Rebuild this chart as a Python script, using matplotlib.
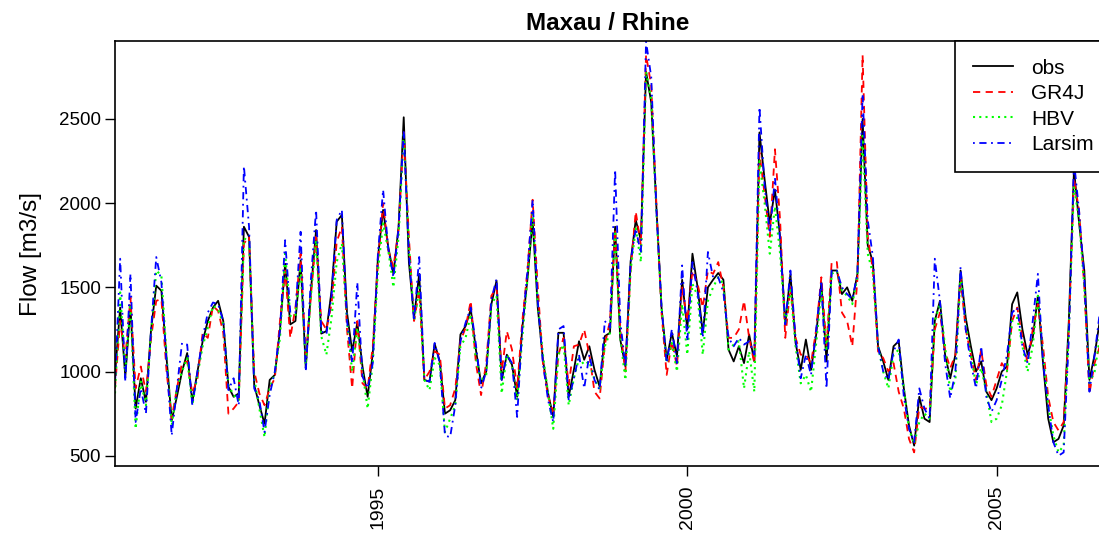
import numpy as np
import matplotlib
matplotlib.use("Agg")
import matplotlib.pyplot as plt

# monthly mean flow at Maxau, Oct 1990 - Sep 2006
start_year = 1990.75

obs = [980, 1380, 970, 1390, 780, 960, 820, 1250, 1510, 1480, 1080, 710,
       850, 1000, 1110, 820, 1000, 1180, 1300, 1380, 1420, 1300, 910, 850,
       870, 1860, 1800, 920, 800, 690, 950, 980, 1250, 1640, 1280, 1300,
       1660, 1020, 1480, 1840, 1225, 1240, 1480, 1890, 1930, 1350, 1120, 1290,
       1030, 850, 1110, 1680, 1960, 1740, 1580, 1860, 2510, 1650, 1320, 1580,
       950, 940, 1165, 1060, 750, 770, 830, 1220, 1270, 1370, 1130, 930,
       1000, 1400, 1540, 950, 1100, 1040, 850, 1260, 1550, 1900, 1380, 1070,
       870, 730, 1230, 1230, 850, 1010, 1180, 1070, 1150, 1010, 910, 1210,
       1230, 1860, 1190, 1030, 1650, 1900, 1780, 2780, 2600, 1980, 1380, 1070,
       1230, 1090, 1545, 1250, 1700, 1500, 1230, 1500, 1545, 1585, 1545, 1130,
       1060, 1150, 1050, 1220, 1060, 2420, 2140, 1880, 2080, 1800, 1280, 1580,
       1170, 1010, 1190, 1010, 1220, 1530, 1060, 1600, 1600, 1460, 1500, 1420,
       1580, 2500, 1750, 1650, 1150, 1060, 950, 1150, 1180, 900, 680, 560,
       850, 720, 700, 1300, 1420, 1100, 960, 1100, 1600, 1320, 1150, 1000,
       1060, 880, 830, 900, 1000, 1030, 1400, 1470, 1250, 1100, 1200, 1450,
       1050, 720, 580, 600, 680, 1300, 2200, 1880, 1600, 950, 1100, 1300]

gr4j = [900, 1300, 1080, 1440, 900, 1030, 880, 1200, 1420, 1430, 1000, 720,
        900, 1050, 1060, 870, 960, 1230, 1200, 1390, 1360, 1230, 750, 780,
        820, 1760, 1800, 1000, 870, 800, 900, 960, 1300, 1600, 1200, 1380,
        1700, 1080, 1450, 1800, 1300, 1250, 1400, 1770, 1860, 1250, 900, 1300,
        930, 900, 1150, 1650, 2000, 1720, 1620, 1840, 2420, 1800, 1300, 1480,
        950, 1000, 1120, 1100, 780, 800, 900, 1180, 1260, 1420, 1050, 860,
        1050, 1450, 1500, 1000, 1240, 1130, 900, 1300, 1600, 2020, 1500, 1050,
        850, 760, 1100, 1200, 920, 1150, 1160, 1250, 1100, 880, 840, 1160,
        1300, 1840, 1250, 1000, 1600, 1950, 1750, 2880, 2700, 2000, 1350, 980,
        1180, 1030, 1500, 1300, 1600, 1520, 1380, 1600, 1580, 1650, 1500, 1200,
        1200, 1250, 1420, 1200, 1050, 2300, 2050, 1800, 2320, 1900, 1200, 1500,
        1200, 1100, 1100, 1050, 1250, 1560, 1150, 1650, 1650, 1350, 1300, 1150,
        1550, 2880, 1800, 1600, 1120, 1080, 1000, 1050, 880, 780, 600, 520,
        790, 780, 780, 1250, 1350, 1120, 1020, 1100, 1550, 1250, 1100, 950,
        1130, 920, 850, 950, 1050, 1000, 1300, 1380, 1200, 1050, 1250, 1400,
        1150, 850, 700, 650, 700, 1250, 2150, 1950, 1500, 870, 1050, 1150]

hbv = [870, 1470, 1000, 1400, 660, 940, 800, 1230, 1600, 1570, 1100, 680,
       900, 1000, 1080, 800, 980, 1150, 1260, 1390, 1370, 1280, 920, 860,
       830, 1790, 1780, 960, 780, 610, 900, 990, 1200, 1700, 1330, 1330,
       1620, 1040, 1450, 1780, 1210, 1100, 1320, 1650, 1760, 1300, 1000, 1260,
       1000, 780, 1050, 1600, 1880, 1720, 1500, 1800, 2420, 1750, 1300, 1500,
       950, 890, 1080, 1040, 640, 720, 800, 1150, 1200, 1340, 1080, 940,
       980, 1400, 1450, 870, 1100, 1040, 830, 1200, 1550, 1940, 1400, 1100,
       870, 660, 1100, 1160, 800, 960, 1080, 1040, 1060, 950, 900, 1150,
       1230, 1820, 1200, 950, 1600, 1850, 1650, 2780, 2620, 1950, 1380, 1050,
       1170, 1000, 1400, 1100, 1520, 1450, 1100, 1420, 1500, 1560, 1520, 1130,
       1160, 1180, 900, 1120, 880, 2250, 2000, 1700, 1980, 1700, 1280, 1500,
       1150, 930, 980, 880, 1170, 1480, 1120, 1580, 1600, 1480, 1450, 1400,
       1560, 2400, 1700, 1580, 1150, 1000, 900, 1100, 1130, 900, 660, 570,
       700, 750, 720, 1300, 1400, 1150, 880, 950, 1580, 1280, 1100, 920,
       1020, 880, 700, 720, 800, 1000, 1300, 1320, 1150, 1000, 1150, 1450,
       1100, 800, 620, 520, 560, 1250, 2100, 1900, 1500, 930, 1000, 1200]

larsim = [920, 1670, 940, 1580, 700, 900, 750, 1250, 1680, 1530, 1050, 620,
          900, 1170, 1160, 800, 1000, 1200, 1350, 1410, 1400, 1300, 890, 960,
          800, 2220, 1860, 900, 830, 640, 860, 1000, 1250, 1780, 1350, 1350,
          1830, 1000, 1550, 1960, 1240, 1220, 1450, 1900, 1960, 1300, 1050, 1530,
          970, 900, 1050, 1700, 2080, 1730, 1560, 1850, 2430, 1700, 1300, 1680,
          950, 940, 1170, 1050, 620, 610, 800, 1180, 1290, 1380, 1160, 900,
          1000, 1430, 1550, 950, 1100, 1050, 730, 1260, 1600, 2020, 1420, 1050,
          830, 700, 1250, 1270, 830, 960, 1100, 900, 1100, 950, 890, 1300,
          1260, 2200, 1300, 1030, 1650, 1850, 1700, 2960, 2750, 1970, 1380, 1050,
          1250, 1050, 1630, 1180, 1650, 1470, 1200, 1710, 1560, 1560, 1470, 1200,
          1150, 1200, 1160, 1180, 1100, 2570, 2100, 1820, 2150, 1780, 1280, 1600,
          1200, 960, 1100, 980, 1250, 1540, 900, 1600, 1600, 1500, 1460, 1430,
          1580, 2650, 1900, 1680, 1150, 1000, 950, 1120, 1190, 850, 660, 580,
          900, 780, 720, 1670, 1420, 1050, 840, 1000, 1620, 1250, 1050, 900,
          1150, 850, 760, 830, 950, 1100, 1350, 1380, 1150, 1050, 1300, 1580,
          1050, 800, 580, 500, 520, 1200, 2250, 1950, 1550, 880, 1100, 1350]

tick_years = [1995, 2000, 2005]

t = start_year + np.arange(len(obs)) / 12.0

plt.rcParams['font.family'] = ['Liberation Sans', 'DejaVu Sans']

fig = plt.figure(figsize=(10.99, 5.41), dpi=100)
ax = fig.add_axes([115 / 1099, 75 / 541, 986 / 1099, 425 / 541])

ax.plot(t, obs, color='black', lw=1.3, label='obs')
ax.plot(t, gr4j, color='#ff0000', lw=1.3, linestyle=(0, (4, 3)), label='GR4J')
ax.plot(t, hbv, color='#00ff00', lw=1.5, linestyle=(0, (1, 2)), label='HBV')
ax.plot(t, larsim, color='#0000ff', lw=1.3, linestyle=(0, (1, 2.5, 4, 2.5)), label='Larsim')

ax.set_xlim(t[0], t[-1] + 0.02)
ax.set_ylim(439, 2963)
ax.set_xticks(tick_years)
ax.set_xticklabels([str(y) for y in tick_years], rotation=90, fontsize=14)
ax.set_yticks([500, 1000, 1500, 2000, 2500])
ax.tick_params(axis='y', labelsize=13.5, length=7, width=1, pad=3)
ax.tick_params(axis='x', length=7, width=1, pad=7)
for s in ax.spines.values():
    s.set_linewidth(1.2)

ax.set_ylabel('Flow [m3/s]', fontsize=17.5, labelpad=12)
ax.set_title('Maxau / Rhine', fontsize=17.5, fontweight='bold', pad=8)

leg = ax.legend(loc='upper left', bbox_to_anchor=(955 / 1099, 1 - 41 / 541),
                bbox_transform=fig.transFigure, fontsize=15, frameon=True,
                fancybox=False, borderaxespad=0, handlelength=1.95,
                labelspacing=0.31, borderpad=0.85, handletextpad=0.85)
leg.get_frame().set_edgecolor('black')
leg.get_frame().set_linewidth(1.2)
leg.get_frame().set_alpha(1)

fig.savefig('out.png', dpi=100)
